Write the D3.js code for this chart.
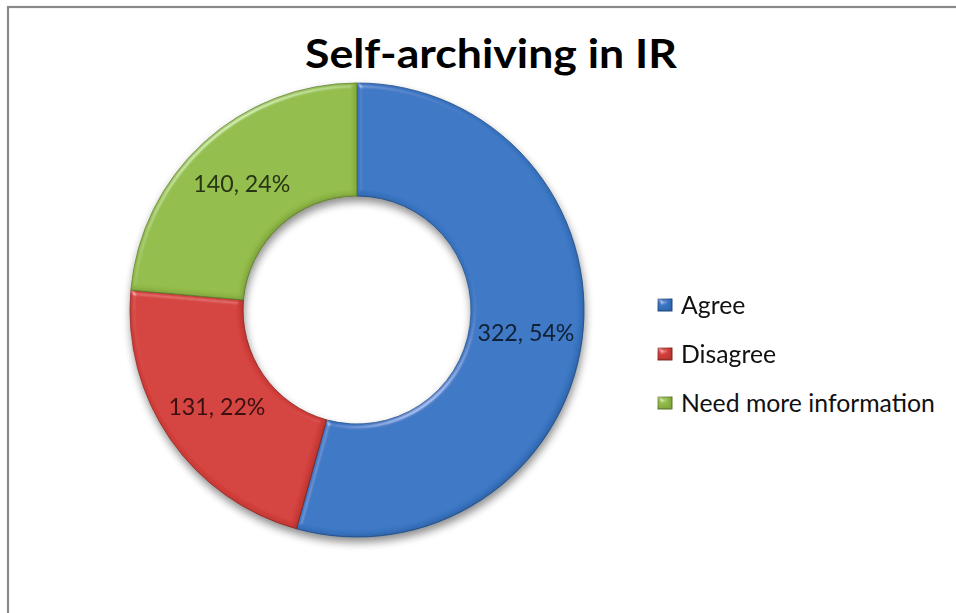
<!DOCTYPE html>
<html>
<head>
<meta charset="utf-8">
<script src="https://cdn.jsdelivr.net/npm/d3@7"></script>
<style>
  html, body { margin: 0; padding: 0; background: #fff; }
  svg { display: block; }
</style>
</head>
<body>
<svg id="chart" width="956" height="613"></svg>
<script>
// Survey responses
const categories = ["Agree", "Disagree", "Need more information"];
const counts = [322, 131, 140];
const percents = [54, 22, 24];
const colors = ["#3a76c4", "#d33f3b", "#92bc48"];
const title = "Self-archiving in IR";

const W = 956, H = 613;
const svg = d3.select("#chart");
const font = "Lato, 'Open Sans', sans-serif";

// Scale a text element's font size so it spans the given width
function fitWidth(sel, width) {
  sel.each(function () {
    const fs = parseFloat(this.getAttribute("font-size"));
    const w = this.getComputedTextLength();
    if (w > 0) this.setAttribute("font-size", (fs * width / w).toFixed(2));
  });
}

// Chart-area frame (runs off the right and bottom edges)
svg.append("rect")
  .attr("x", 8).attr("y", 7)
  .attr("width", W + 20).attr("height", H + 20)
  .attr("fill", "#fff")
  .attr("stroke", "#8a8a8a").attr("stroke-width", 2.2);

const defs = svg.append("defs");

// Soft drop shadow under the ring
const sh = defs.append("filter").attr("id", "shadow")
  .attr("x", "-20%").attr("y", "-20%").attr("width", "140%").attr("height", "140%");
sh.append("feGaussianBlur").attr("in", "SourceAlpha").attr("stdDeviation", 4).attr("result", "b");
sh.append("feOffset").attr("in", "b").attr("dx", 1).attr("dy", 5).attr("result", "o");
sh.append("feComponentTransfer").attr("in", "o").attr("result", "s")
  .append("feFuncA").attr("type", "linear").attr("slope", 0.45);
const shm = sh.append("feMerge");
shm.append("feMergeNode").attr("in", "s");
shm.append("feMergeNode").attr("in", "SourceGraphic");

// Bevel: highlight on edges that face the light, shade on the others
const bv = defs.append("filter").attr("id", "bevel")
  .attr("x", "-5%").attr("y", "-5%").attr("width", "110%").attr("height", "110%");
bv.append("feGaussianBlur").attr("in", "SourceAlpha").attr("stdDeviation", 2.5).attr("result", "blur");
const spec = bv.append("feSpecularLighting").attr("in", "blur")
  .attr("surfaceScale", 4).attr("specularConstant", 0.7).attr("specularExponent", 25)
  .attr("lighting-color", "#ffffff").attr("result", "spec");
spec.append("feDistantLight").attr("azimuth", 235).attr("elevation", 30);
bv.append("feComposite").attr("in", "spec").attr("in2", "SourceAlpha").attr("operator", "in").attr("result", "specIn");
// shade: offset blurred alpha, inverted, inside the shape
bv.append("feOffset").attr("in", "blur").attr("dx", -2).attr("dy", -2).attr("result", "off");
bv.append("feComposite").attr("in", "SourceAlpha").attr("in2", "off").attr("operator", "out").attr("result", "edge");
bv.append("feFlood").attr("flood-color", "#000").attr("flood-opacity", 0.35).attr("result", "dark");
bv.append("feComposite").attr("in", "dark").attr("in2", "edge").attr("operator", "in").attr("result", "shade");
bv.append("feComposite").attr("in", "SourceGraphic").attr("in2", "specIn")
  .attr("operator", "arithmetic").attr("k1", 0).attr("k2", 1).attr("k3", 0.5).attr("k4", 0).attr("result", "lit");
const bm = bv.append("feMerge");
bm.append("feMergeNode").attr("in", "lit");
bm.append("feMergeNode").attr("in", "shade");

// Title
svg.append("text")
  .attr("x", 491).attr("y", 68)
  .attr("text-anchor", "middle")
  .attr("font-family", font).attr("font-weight", "bold")
  .attr("font-size", 41).attr("fill", "#000")
  .attr("textLength", 372).attr("lengthAdjust", "spacingAndGlyphs")
  .text(title);

// Donut
const cx = 357, cy = 310, rOuter = 227, rInner = 114;
const data = categories.map((c, i) => ({ name: c, value: counts[i], pct: percents[i], color: colors[i] }));

const pie = d3.pie().value(d => d.value).sort(null);
const arc = d3.arc().innerRadius(rInner).outerRadius(rOuter);
const arcs = pie(data);

const g = svg.append("g").attr("transform", `translate(${cx},${cy})`);
const ring = g.append("g").attr("filter", "url(#shadow)");

ring.selectAll("path.slice")
  .data(arcs)
  .join("path")
  .attr("class", "slice")
  .attr("d", arc)
  .attr("fill", d => d.data.color)
  .attr("stroke", d => d3.color(d.data.color).darker(0.9))
  .attr("stroke-width", 0.8)
  .attr("filter", "url(#bevel)");

// Slice labels: "count, pct%"
const labelArc = d3.arc().innerRadius((rInner + rOuter) / 2).outerRadius((rInner + rOuter) / 2);
const labels = g.selectAll("text.lbl")
  .data(arcs)
  .join("text")
  .attr("class", "lbl")
  .attr("transform", d => `translate(${labelArc.centroid(d)})`)
  .attr("text-anchor", "middle")
  .attr("dy", "0.35em")
  .attr("font-family", font)
  .attr("font-size", 20)
  .attr("fill", d => d3.color(d.data.color).darker(3.6))
  .text(d => `${d.data.value}, ${d.data.pct}%`);
// same size for all three, fitted on one of them
const lblNode = labels.filter((d, i) => i === 1);
lblNode.call(fitWidth, 97);
labels.attr("font-size", lblNode.attr("font-size"));

// Legend
const legend = svg.append("g").attr("transform", "translate(658,0)");
const ly = d3.scalePoint().domain(categories).range([305, 403]);
const item = legend.selectAll("g.item")
  .data(data)
  .join("g")
  .attr("class", "item")
  .attr("transform", d => `translate(0,${ly(d.name)})`);
item.append("rect")
  .attr("x", 0).attr("y", -6).attr("width", 14).attr("height", 12)
  .attr("fill", d => d.color)
  .attr("stroke", d => d3.color(d.color).darker(0.9)).attr("stroke-width", 0.8)
  .attr("filter", "url(#bevel)");
const legText = item.append("text")
  .attr("x", 23).attr("y", 0).attr("dy", "0.35em")
  .attr("font-family", font).attr("font-size", 21).attr("fill", "#111")
  .text(d => d.name);
const longest = legText.filter((d, i) => i === 2);
longest.call(fitWidth, 254);
legText.attr("font-size", longest.attr("font-size"));
</script>
</body>
</html>
